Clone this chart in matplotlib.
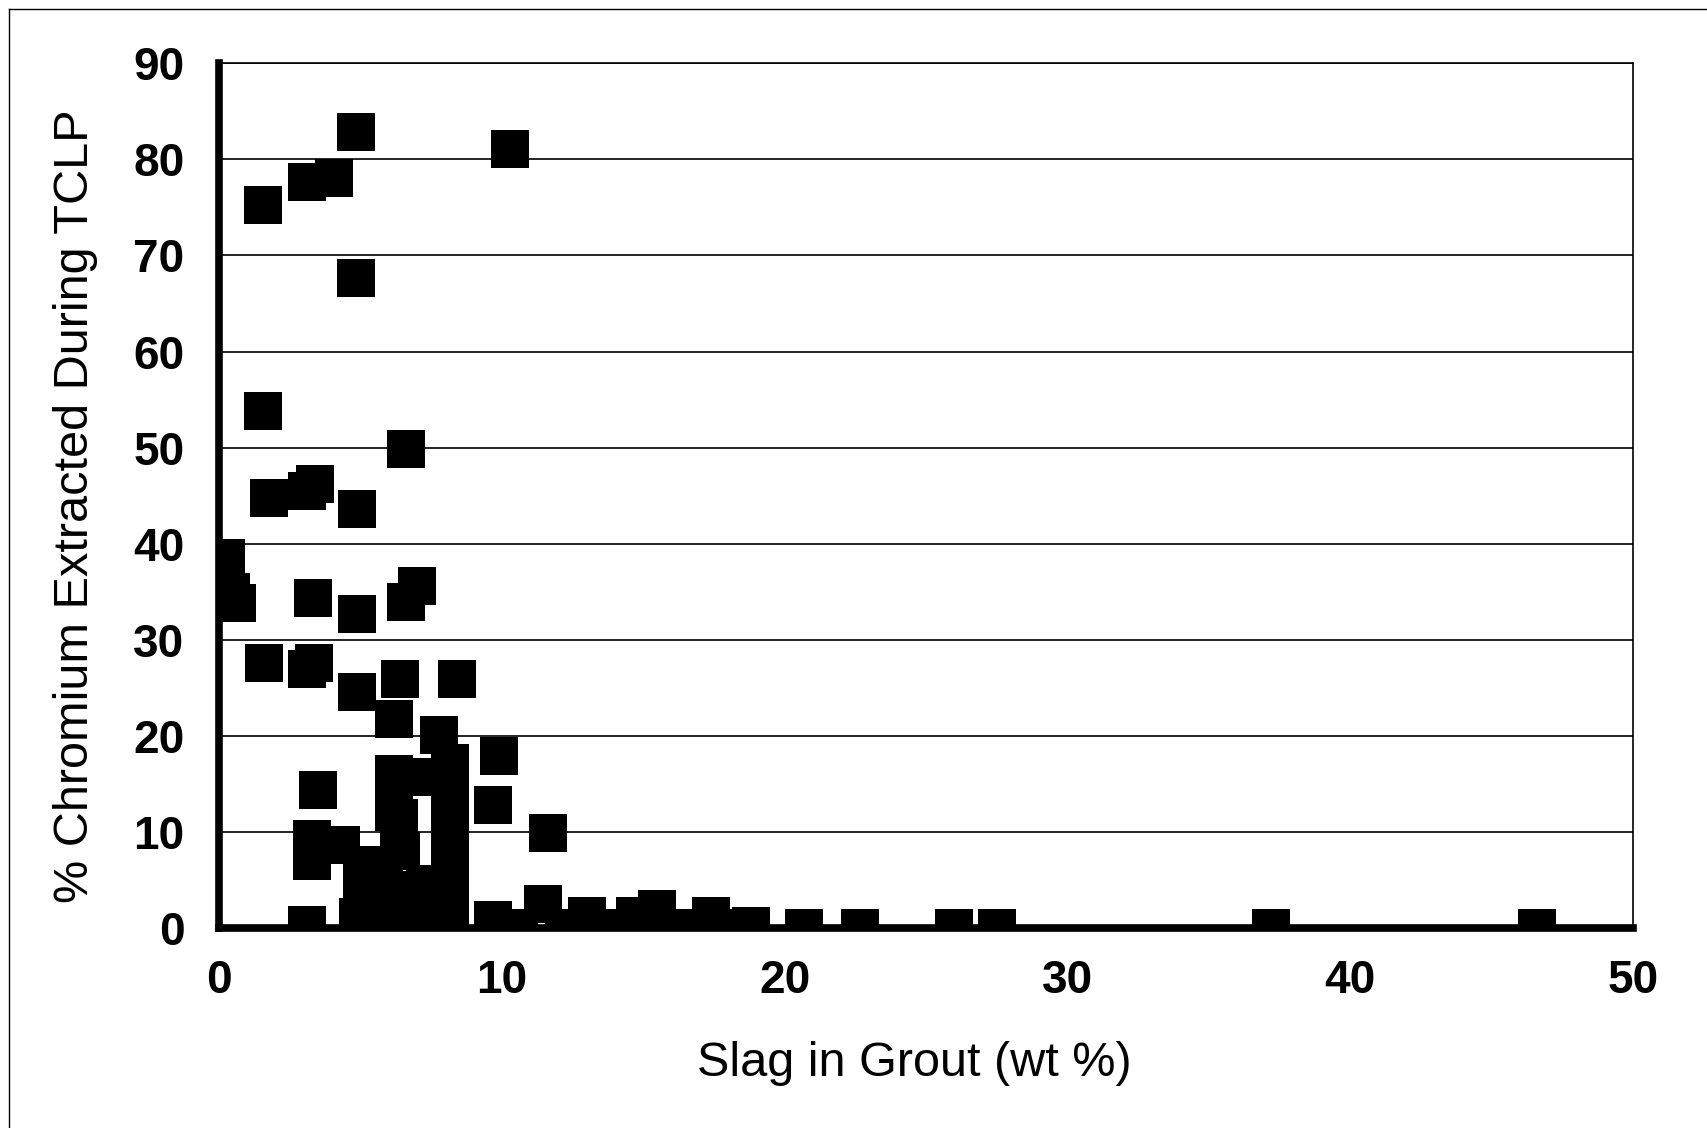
import matplotlib.pyplot as plt
from matplotlib.lines import Line2D

plt.rcParams['font.family'] = ['Liberation Sans', 'DejaVu Sans']

# slag content (wt %) and % Cr extracted
slag = [1.57, 3.11, 4.08, 4.86, 10.28, 4.86, 1.57, 6.6,
        1.77, 3.1, 3.4, 4.88,
        0.23, 0.41, 0.62, 3.32, 4.88, 6.6, 7.0,
        1.6, 3.1, 3.35, 4.88, 6.4, 8.4,
        6.2, 7.77, 9.9, 9.7, 11.65,
        3.5, 3.3, 3.3, 4.3, 3.1,
        6.2, 6.2, 6.37, 6.37, 8.15, 8.15, 8.15, 8.15, 8.15, 8.15,
        7.3, 7.3, 7.3,
        5.07, 4.9, 5.07, 5.42, 5.85, 6.45, 6.3, 6.3, 5.8,
        9.7, 10.6, 11.45, 12.2, 13.0, 14.0, 14.7, 15.5, 16.4, 17.4, 18.0, 18.8,
        20.7, 22.65, 26.0, 27.5, 37.2, 46.6]
cr_pct = [75.2, 77.6, 78.1, 82.8, 81.1, 67.7, 53.8, 49.9,
          44.8, 45.5, 46.2, 43.6,
          38.5, 35.0, 33.8, 34.4, 32.7, 33.9, 35.6,
          27.6, 27.0, 27.6, 24.6, 25.9, 25.9,
          21.8, 20.1, 17.9, 12.8, 9.9,
          14.4, 9.3, 7.0, 8.7, 0.3,
          16.1, 12.1, 11.5, 8.0, 17.2, 14.0, 11.0, 8.0, 5.0, 2.0,
          15.7, 4.6, 1.5,
          6.6, 1.2, 3.3, 4.6, 6.4, 8.0, 4.0, 1.0, 1.5,
          0.9, 0.0, 2.5, 0.0, 1.3, 0.0, 1.3, 2.0, 0.0, 1.3, 0.0, 0.2,
          0.0, 0.0, 0.0, 0.0, 0.0, 0.0]

x_ticks = [0, 10, 20, 30, 40, 50]
y_ticks = [0, 10, 20, 30, 40, 50, 60, 70, 80, 90]

fig = plt.figure(figsize=(17.07, 11.28), dpi=100)
ax = fig.add_axes([0.1283, 0.177, 0.8284, 0.767])

ax.plot(slag, cr_pct, linestyle='none', marker='s', markersize=28,
        markeredgewidth=0, color='black', zorder=3)

ax.set_xlim(0, 50)
ax.set_ylim(0, 90)
ax.set_xticks(x_ticks)
ax.set_yticks(y_ticks)
ax.tick_params(axis='both', length=0, labelsize=33)
ax.tick_params(axis='y', pad=25)
ax.tick_params(axis='x', pad=22)
for lab in ax.get_xticklabels() + ax.get_yticklabels():
    lab.set_fontweight('bold')

ax.yaxis.grid(True, color='black', linewidth=1.2)
ax.set_axisbelow(True)
for side in ['left', 'bottom']:
    ax.spines[side].set_linewidth(5.5)
for side in ['top', 'right']:
    ax.spines[side].set_linewidth(1.2)

fig.text(0.5355, 0.0575, 'Slag in Grout (wt %)', fontsize=35,
         ha='center', va='center')
fig.text(0.0445, 0.551, '% Chromium Extracted During TCLP', fontsize=35,
         rotation=90, ha='center', va='center')

# thin frame of the scanned page
fig.add_artist(Line2D([0.005, 0.005], [0, 0.992], color='black', linewidth=1))
fig.add_artist(Line2D([0.005, 1], [0.992, 0.992], color='black', linewidth=1))

plt.savefig('out.png', dpi=100)
